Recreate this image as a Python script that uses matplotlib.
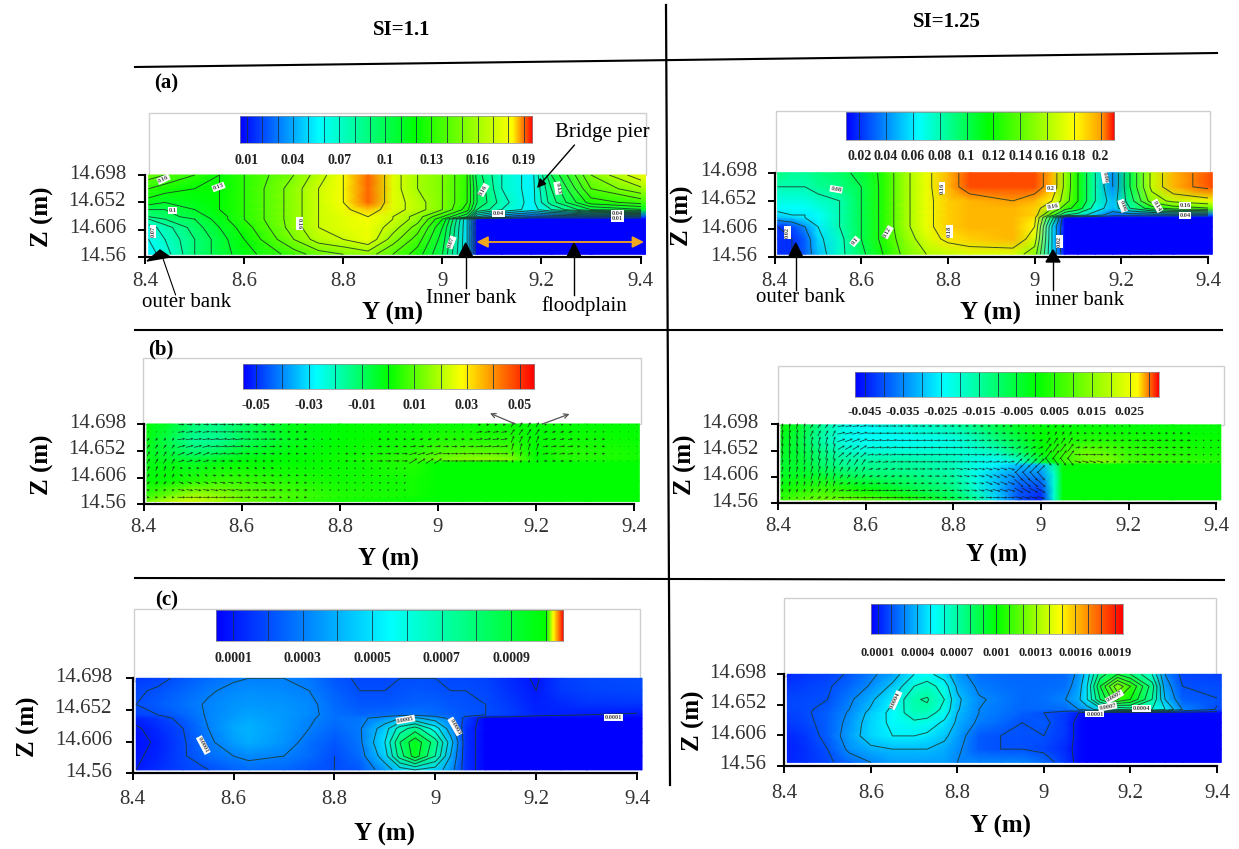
import numpy as np
import matplotlib
matplotlib.use("Agg")
import matplotlib.pyplot as plt
from matplotlib.colors import LinearSegmentedColormap
from matplotlib.lines import Line2D
from matplotlib.patches import Rectangle, Polygon

plt.rcParams['font.family'] = ['Liberation Serif', 'DejaVu Serif']
W, H = 1239, 849
N = np.nan

# ---------- panel (a) left: SI=1.1 ----------
a1_y = [8.407,8.44,8.5,8.55,8.6,8.7,8.75,8.8,8.85,8.9,8.95,9.0,9.05,9.07,9.12,9.18,9.22,9.3,9.41]
a1_z = [14.565,14.59,14.61,14.624,14.628,14.64,14.652,14.675,14.698]
a1_v = [
 [.055,.065,.09,.105,.115,.135,.145,.15,.155,.14,.125,.10,.05,.0,.0,.0,.0,.0,.0],
 [.06,.07,.09,.105,.12,.15,.165,.17,.178,.155,.135,.105,.05,.0,.0,.0,.0,.0,.0],
 [.065,.075,.095,.11,.125,.155,.17,.175,.178,.165,.145,.11,.05,.0,.0,.0,.0,.0,.0],
 [.08,.09,.10,.115,.13,.155,.17,.175,.18,.17,.155,.12,.05,.0,.0,.0,.0,.0,.0],
 [.09,.095,.105,.115,.13,.155,.17,.175,.18,.17,.155,.13,.10,.05,.03,.02,.02,.02,.02],
 [.10,.10,.11,.12,.13,.155,.17,.178,.185,.175,.165,.15,.125,.09,.07,.055,.07,.10,.11],
 [.115,.11,.115,.12,.13,.155,.17,.18,.19,.175,.165,.15,.13,.10,.075,.055,.085,.125,.135],
 [.13,.125,.12,.12,.13,.155,.17,.18,.19,.175,.16,.15,.13,.10,.07,.055,.09,.14,.16],
 [.145,.14,.13,.12,.13,.15,.165,.18,.19,.175,.16,.15,.13,.095,.07,.055,.10,.15,.18],
]
a1_ticks = ['0.01','0.04','0.07','0.1','0.13','0.16','0.19']

# ---------- panel (a) right: SI=1.25 ----------
a2_y = [8.407,8.44,8.47,8.5,8.55,8.6,8.65,8.7,8.75,8.8,8.85,8.95,9.0,9.04,9.07,9.1,9.14,9.18,9.22,9.27,9.32,9.41]
a2_z = [14.565,14.59,14.61,14.625,14.629,14.64,14.652,14.675,14.698]
a2_v = [
 [.02,.02,.03,.05,.075,.095,.12,.145,.16,.165,.17,.17,.15,.06,0,0,0,0,0,0,0,0],
 [.02,.02,.03,.055,.075,.10,.125,.15,.17,.185,.19,.195,.17,.06,0,0,0,0,0,0,0,0],
 [.02,.025,.04,.06,.08,.10,.125,.155,.175,.19,.195,.195,.18,.06,0,0,0,0,0,0,0,0],
 [.05,.055,.06,.065,.08,.10,.125,.155,.175,.19,.195,.195,.185,.09,0,0,0,0,0,0,0,0],
 [.055,.06,.06,.065,.08,.10,.125,.155,.175,.19,.195,.195,.19,.13,.08,.07,.05,.03,.03,.03,.03,.03],
 [.065,.065,.065,.07,.08,.10,.125,.155,.175,.19,.195,.195,.19,.16,.13,.11,.07,.05,.08,.11,.13,.14],
 [.07,.07,.07,.075,.08,.10,.125,.155,.175,.19,.195,.2,.195,.18,.15,.12,.08,.05,.09,.15,.165,.175],
 [.08,.08,.08,.085,.09,.10,.125,.155,.175,.195,.205,.205,.205,.195,.155,.12,.08,.04,.10,.165,.195,.205],
 [.09,.085,.085,.09,.095,.105,.125,.155,.175,.195,.205,.205,.205,.195,.155,.12,.08,.04,.10,.165,.195,.205],
]
a2_ticks = ['0.02','0.04','0.06','0.08','0.1','0.12','0.14','0.16','0.18','0.2']

# ---------- panel (b) left ----------
b1_y = [8.407,8.45,8.5,8.55,8.6,8.7,8.8,8.95,9.0,9.05,9.1,9.15,9.2,9.25,9.3,9.41]
b1_z = [14.565,14.575,14.6,14.633,14.637,14.65,14.67,14.698]
b1_v = [
 [.012,.02,.022,.018,.012,.006,.002,0,0,0,0,0,0,0,0,0],
 [.006,.012,.018,.016,.012,.008,.004,.002,0,0,0,0,0,0,0,0],
 [0,.001,.004,.006,.006,.004,.002,.002,0,0,0,0,0,0,0,0],
 [-.002,-.002,-.004,-.002,0,0,.001,.004,0,0,0,0,0,0,0,0],
 [-.002,-.004,-.006,-.004,-.002,0,.002,.006,.012,.015,.016,.014,0,.004,.004,.002],
 [-.003,-.006,-.012,-.01,-.005,-.001,.001,.004,.008,.01,.01,.008,0,.004,.004,.002],
 [-.002,-.008,-.016,-.016,-.01,-.003,0,.002,.004,.004,.004,.004,0,.002,.002,.001],
 [-.001,-.004,-.012,-.014,-.01,-.002,0,.001,.001,.001,.001,.001,0,0,0,0],
]
b1_ticks = ['-0.05','-0.03','-0.01','0.01','0.03','0.05']
b1_u = [
 [0,6,7,5,2,1,1,1,1,1,3,3,2,1,1],
 [1,7,8,6,3,1,1,2,2,2,6,4,4,2,1],
 [2,8,9,7,4,2,1,3,4,4,7,3,5,3,1],
 [3,8,9,6,3,2,2,4,6,6,8,2,6,3,1],
 [3,7,8,5,3,2,3,6,8,8,8,1,6,3,1],
 [3,6,5,3,2,2,3,6,8,8,8,1,4,2,1],
 [2,3,3,3,2,2,2,2,N,N,N,N,N,N,N],
 [2,3,4,4,3,2,2,2,N,N,N,N,N,N,N],
 [3,5,6,5,3,2,2,2,N,N,N,N,N,N,N],
 [3,7,8,7,4,2,2,2,N,N,N,N,N,N,N],
 [3,8,8,6,3,1,1,1,N,N,N,N,N,N,N],
]
b1_w = [
 [0,0,0,0,0,0,0,0,0,0,1,5,1,0,0],
 [1,1,0,0,0,0,0,0,0,0,1,6,1,0,0],
 [3,1,1,0,0,0,0,0,1,0,1,7,1,0,0],
 [4,2,1,0,0,0,0,0,1,0,1,7,1,0,0],
 [5,3,1,0,0,0,0,0,2,0,0,5,1,0,0],
 [5,2,0,0,0,0,0,0,5,0,0,3,0,0,0],
 [5,-1,-1,-1,0,0,0,1,N,N,N,N,N,N,N],
 [4,-2,-1,-1,-1,0,0,1,N,N,N,N,N,N,N],
 [3,-2,-1,-1,0,0,0,1,N,N,N,N,N,N,N],
 [1,-1,-1,0,0,0,0,0,N,N,N,N,N,N,N],
 [0,0,0,0,0,0,0,0,N,N,N,N,N,N,N],
]

# ---------- panel (b) right ----------
b2_y = [8.407,8.45,8.5,8.55,8.6,8.7,8.8,8.85,8.9,8.95,9.0,9.03,9.05,9.1,9.15,9.2,9.3,9.41]
b2_z = [14.566,14.585,14.61,14.628,14.632,14.65,14.67,14.697]
b2_v = [
 [.006,.010,.012,.012,.010,.004,-.006,-.014,-.028,-.040,-.045,-.02,0,0,0,0,0,0],
 [.002,.004,.006,.004,0,-.006,-.012,-.02,-.03,-.04,-.042,-.02,0,0,0,0,0,0],
 [-.003,-.003,-.005,-.008,-.01,-.012,-.016,-.022,-.03,-.035,-.035,-.02,0,0,0,0,0,0],
 [-.004,-.004,-.01,-.014,-.014,-.015,-.018,-.022,-.025,-.03,-.03,-.015,0,0,0,0,0,0],
 [-.004,-.004,-.01,-.014,-.014,-.015,-.018,-.022,-.025,-.02,-.006,0,.006,.012,.014,.008,.006,.004],
 [-.003,-.005,-.012,-.018,-.02,-.02,-.02,-.02,-.018,-.01,0,.004,.006,.012,.01,.006,.004,.002],
 [-.002,-.006,-.016,-.022,-.024,-.024,-.022,-.018,-.012,-.006,0,.002,.003,.004,.004,.003,.002,.001],
 [0,-.004,-.014,-.022,-.024,-.02,-.016,-.012,-.006,-.002,0,0,0,0,0,0,0,0],
]
b2_ticks = ['-0.045','-0.035','-0.025','-0.015','-0.005','0.005','0.015','0.025']
b2_u = [
 [1,3,7,7,6,5,4,3,2,2,2,2,1,1,1],
 [1,3,8,8,7,7,6,4,3,2,3,3,3,3,1],
 [1,2,8,8,8,7,6,5,4,4,4,4,5,4,2],
 [1,2,7,8,8,8,7,6,5,6,5,4,5,4,2],
 [1,2,6,7,8,8,7,6,5,7,7,4,5,4,2],
 [1,2,4,6,7,7,7,7,7,6,7,3,5,4,2],
 [1,2,3,5,6,6,7,7,8,N,N,N,N,N,N],
 [1,2,3,4,4,5,6,7,8,N,N,N,N,N,N],
 [1,2,4,5,4,4,5,7,9,N,N,N,N,N,N],
 [1,3,6,7,6,5,6,8,9,N,N,N,N,N,N],
 [1,4,7,8,7,5,5,7,8,N,N,N,N,N,N],
]
b2_w = [
 [6,4,1,0,0,0,0,0,0,2,0,0,0,0,0],
 [8,6,2,0,0,0,0,0,0,4,0,0,0,0,0],
 [9,8,3,1,0,0,0,0,1,6,1,0,0,0,0],
 [9,9,4,1,0,0,0,0,2,8,1,0,0,0,0],
 [8,9,5,1,0,0,0,1,4,9,0,0,0,0,0],
 [6,8,6,1,0,0,0,1,7,-8,-2,0,0,0,0],
 [6,7,5,1,0,0,-1,-2,8,N,N,N,N,N,N],
 [5,7,4,1,0,0,-1,-3,-9,N,N,N,N,N,N],
 [5,6,2,0,0,0,-1,-3,-8,N,N,N,N,N,N],
 [4,4,1,0,0,0,-1,-2,-5,N,N,N,N,N,N],
 [2,2,0,0,0,0,0,0,-2,N,N,N,N,N,N],
]

# ---------- panel (c) left, values in 1e-4 ----------
c1_y = [8.407,8.45,8.5,8.55,8.6,8.63,8.7,8.75,8.8,8.85,8.9,8.93,8.96,9.0,9.03,9.06,9.1,9.15,9.2,9.25,9.3,9.41]
c1_z = [14.565,14.585,14.605,14.625,14.64,14.645,14.66,14.68,14.698]
c1_v = [
 [1.0,1.4,1.8,2.0,2.4,2.6,2.5,2.2,2.0,2.2,3.5,4.5,5.0,4.5,3.5,1.5,.5,.5,.5,.5,.5,.5],
 [.9,1.2,1.9,2.6,3.0,3.2,3.0,2.6,2.0,2.6,4.5,7.5,9.5,7,4,1.5,.5,.5,.5,.5,.5,.5],
 [.8,1.1,1.9,2.8,3.6,3.9,3.4,2.7,2.2,2.8,5,8,9.7,7.5,4.5,1.5,.5,.5,.5,.5,.5,.5],
 [.9,1.3,2.0,3.0,3.8,4.0,3.5,3.0,2.5,2.9,4.5,6.5,7.5,5.5,3.5,1.5,.5,.5,.5,.5,.5,.5],
 [1.2,1.6,2.3,3.1,3.6,3.8,3.5,3.1,2.7,2.8,3.4,4,4.2,3.5,2.8,1.8,.5,.5,.5,.5,.5,.5],
 [1.8,2.0,2.5,3.1,3.5,3.7,3.5,3.2,2.7,2.5,2.6,2.7,2.8,2.6,2.4,2.2,2.0,1.7,1.2,1.1,1.0,.9],
 [2.0,2.3,2.7,3.1,3.4,3.5,3.4,3.2,2.6,2.2,2.2,2.3,2.4,2.4,2.2,2.1,2.0,1.6,1.1,1.3,1.5,1.5],
 [1.9,2.1,2.5,2.9,3.2,3.3,3.2,3.0,2.4,2.0,2.0,2.1,2.2,2.1,2.0,2.0,1.9,1.4,1.0,1.6,1.8,1.9],
 [1.6,1.8,2.2,2.6,2.9,3.0,3.0,2.8,2.2,1.9,1.9,2.0,2.0,2.0,1.9,1.9,1.8,1.3,.9,1.7,1.9,2.0],
]
c1_ticks = ['0.0001','0.0003','0.0005','0.0007','0.0009']

# ---------- panel (c) right, values in 1e-4 ----------
c2_y = [8.407,8.45,8.5,8.55,8.6,8.65,8.7,8.73,8.77,8.8,8.85,8.9,8.95,9.0,9.05,9.08,9.1,9.13,9.17,9.2,9.25,9.28,9.32,9.41]
c2_z = [14.565,14.585,14.605,14.625,14.64,14.645,14.66,14.68,14.698]
c2_v = [
 [1.2,1.4,1.8,2.5,3,3.5,3.5,3.5,3.5,3.0,3.0,3,3,2.5,1.5,.7,.5,.5,.5,.5,.5,.5,.5,.5],
 [1.1,1.4,2.0,3.2,3.8,4,4,4,3.7,3.2,2.2,2,2,1.8,1.3,.7,.5,.5,.5,.5,.5,.5,.5,.5],
 [1.2,1.5,2.3,3.5,4.5,5.0,5.0,4.8,4.2,3.5,2.2,2,2,2,1.5,.7,.5,.5,.5,.5,.5,.5,.5,.5],
 [1.6,1.8,2.3,3.3,4.5,5.2,5.8,5.6,4.8,3.8,2.8,2.5,2,2.2,1.5,.7,.5,.5,.5,.5,.5,.5,.5,.5],
 [1.7,1.9,2.3,3.1,4.3,5.3,6.6,6.5,5.5,4,3,2.7,2.3,2.0,1.6,1,.6,.6,.6,.6,.6,.6,.6,.6],
 [1.8,1.9,2.2,3.0,4.1,5.2,6.7,6.8,5.7,4.1,3,2.7,2.4,2.5,2.5,3,3.5,4.5,6,6.5,6,5,3,1.8],
 [1.8,1.9,2,2.8,3.8,5.0,6.9,7.1,6.0,4.2,3.1,2.8,2.5,2.6,3,3.8,5,8,11,10,7,4,2.3,2.0],
 [1.5,1.7,1.9,2.4,3.1,4.2,6,6.5,5.5,3.8,2.8,2.6,2.5,2.5,2.6,3.5,5,9,12.8,11,7.5,3.5,2.0,1.9],
 [1.2,1.5,1.7,2.1,2.8,3.5,5,5.3,4.5,3.3,2.6,2.5,2.4,2.4,2.5,3.2,4.5,7.5,9,8,6,3,1.8,1.7],
]
c2_ticks = ['0.0001','0.0004','0.0007','0.001','0.0013','0.0016','0.0019']

x_ticks = [8.4, 8.6, 8.8, 9.0, 9.2, 9.4]
x_tick_labels = ['8.4', '8.6', '8.8', '9', '9.2', '9.4']
z_ticks = [14.56, 14.606, 14.652, 14.698]
z_tick_labels = ['14.56', '14.606', '14.652', '14.698']

fig = plt.figure(figsize=(W/100, H/100), dpi=100, facecolor='white')

def px_rect(l, t, r, b):
    return [l/W, 1-b/H, (r-l)/W, (b-t)/H]

def fx(x): return x/W
def fy(y): return 1-y/H

def rainbow(stops):
    return LinearSegmentedColormap.from_list('r', list(zip(stops, ['#0000ff','#00ffff','#00ff00','#ffff00','#ff0000'])), N=512)

def txt(x, y, s, **kw):
    kw.setdefault('ha', 'center'); kw.setdefault('va', 'center')
    fig.text(fx(x), fy(y), s, **kw)

def panel(box, ax_px, ylab_right, ylab_x, y, z, v, cmap, vmin, vmax, levels, labels, xlab, xtick_y):
    # white frame behind the plot
    fig.add_artist(Rectangle((fx(box[0]), fy(box[3])), (box[2]-box[0])/W, (box[3]-box[1])/H,
                             transform=fig.transFigure, fc='white', ec='#cfcfcf', lw=1.0, zorder=0))
    ax = fig.add_axes(px_rect(*ax_px), facecolor='none', zorder=2)
    ax.set_xlim(8.4, 9.4); ax.set_ylim(14.56, 14.698)
    m = ax.pcolormesh(y, z, np.array(v), cmap=cmap, vmin=vmin, vmax=vmax, shading='gouraud', clip_on=False, zorder=1)
    if levels is not None:
        ax.contour(y, z, np.array(v), levels=levels, colors='#1c3a2a', linewidths=0.7, alpha=0.85, clip_on=False, zorder=2)
    for s in ('top', 'right'):
        ax.spines[s].set_visible(False)
    for s in ('left', 'bottom'):
        ax.spines[s].set_linewidth(1.6)
    ax.set_xticks(x_ticks); ax.set_yticks(z_ticks)
    ax.set_xticklabels([]); ax.set_yticklabels([])
    ax.tick_params(length=5, width=1.4, direction='out')
    for t, s in zip(x_ticks, x_tick_labels):
        px = ax_px[0] + (t-8.4)*(ax_px[2]-ax_px[0])
        txt(px, xtick_y, s, fontsize=15, color='#333333')
    for t, s in zip(z_ticks, z_tick_labels):
        py = ax_px[3] - (t-14.56)/0.138*(ax_px[3]-ax_px[1])
        txt(ylab_right, py-1, s, fontsize=15, color='#333333', ha='right')
    txt(ylab_x, (ax_px[1]+ax_px[3])/2+1, 'Z (m)', fontsize=18, fontweight='bold', rotation=90)
    txt(xlab[0], xlab[1], 'Y (m)', fontsize=18, fontweight='bold')
    for (lx, lz, s, rot) in labels:
        ax.text(lx, lz, s, fontsize=4.6, fontweight='bold', color='#444444', rotation=rot, ha='center', va='center',
                rotation_mode='anchor', zorder=4, clip_on=False,
                bbox=dict(fc='white', ec='none', pad=0.6))
    return ax

def cbar(rect, cmap, vmin, vmax, line_vals, tick_vals, tick_labels, label_y, fs):
    l, t, r, b = rect
    cax = fig.add_axes(px_rect(l, t, r, b), zorder=3)
    cax.imshow(np.linspace(vmin, vmax, 512)[None, :], cmap=cmap, vmin=vmin, vmax=vmax, aspect='auto', extent=[vmin, vmax, 0, 1])
    cax.vlines(line_vals, 0, 1, color='#153045', lw=0.7, alpha=0.8)
    cax.set_xticks([]); cax.set_yticks([])
    for s in cax.spines.values():
        s.set_linewidth(0.5); s.set_color('#8a8a8a')
    for val, s in zip(tick_vals, tick_labels):
        px = l + (val-vmin)/(vmax-vmin)*(r-l)
        txt(px, label_y, s, fontsize=fs, fontweight='bold', color='#222222')

def arrow(x0, y0, x1, y1, color='black', lw=1.0, ms=12, style='-|>'):
    fig.add_artist(matplotlib.patches.FancyArrowPatch((fx(x0), fy(y0)), (fx(x1), fy(y1)), transform=fig.transFigure,
                   arrowstyle=style, mutation_scale=ms, color=color, lw=lw, shrinkA=0, shrinkB=0, zorder=6))

def up_tri(x, y_tip, y_base, half, y_end):
    fig.add_artist(Line2D([fx(x), fx(x)], [fy(y_base), fy(y_end)], color='black', lw=1.0, zorder=6))
    fig.add_artist(Polygon([(fx(x), fy(y_tip)), (fx(x-half), fy(y_base)), (fx(x+half), fy(y_base))],
                           transform=fig.transFigure, fc='black', ec='black', zorder=6))

def field(ax, u, w, z_top, z_bot, y_step=4, x0=8.41, x1=9.405):
    U = np.repeat(np.array(u, float), y_step, axis=1)
    V = np.repeat(np.array(w, float), y_step, axis=1)
    xs = np.linspace(x0, x1, U.shape[1])
    zs = np.linspace(z_top, z_bot, U.shape[0])
    X, Z = np.meshgrid(xs, zs)
    ax.quiver(X, Z, np.ma.masked_invalid(U), np.ma.masked_invalid(V), angles='uv', units='dots', scale_units='dots', scale=1,
              width=0.8, headwidth=3.2, headlength=3.5, headaxislength=3, minlength=0.6, pivot='mid', color='#1a1a1a',
              alpha=0.8, clip_on=False, zorder=3)

# ---------- (a) left ----------
cm = rainbow([0, .27, .6, .93, 1])
vmin, vmax = .0056, .1955
lv = np.arange(.01, .195, .01)
ax = panel((148.6, 112.7, 645.5, 175), (145.2, 175, 640.5, 257.3), 126, 42, a1_y, a1_z, a1_v, cm, vmin, vmax, lv,
           [(8.437,14.691,'0.16',25),(8.548,14.678,'0.13',20),(8.455,14.638,'0.1',0),(8.416,14.603,'0.07',90),
            (8.711,14.617,'0.16',-90),(9.083,14.673,'0.16',60),(9.233,14.676,'0.13',-80),(9.113,14.633,'0.04',0),
            (9.354,14.633,'0.04',0),(9.354,14.625,'0.01',0),(9.018,14.585,'0.07',70)],
           (392, 313), 281.7)
cbar((240, 116, 532.3, 143.3), cm, vmin, vmax, lv, [.01,.04,.07,.1,.13,.16,.19], a1_ticks, 160, 10)

# ---------- (a) right ----------
cm = LinearSegmentedColormap.from_list('r', list(zip([0,.27,.53,.85,.95,1], ['#0000ff','#00ffff','#00ff00','#ffff00','#ffa000','#ff0000'])), N=512)
vmin, vmax = .0099, .21
lv = np.arange(.02, .205, .02)
ax = panel((776.4, 110.7, 1210.4, 173), (774.6, 172.7, 1208, 257.3), 757, 682, a2_y, a2_z, a2_v, cm, vmin, vmax, np.arange(.02, .21, .02),
           [(8.542,14.671,'0.08',-10),(8.786,14.673,'0.16',90),(8.803,14.602,'0.18',90),(8.585,14.586,'0.1',50),
            (8.661,14.601,'0.12',60),(9.038,14.672,'0.2',0),(9.042,14.643,'0.16',10),(9.162,14.691,'0.06',-80),
            (9.203,14.644,'0.06',-70),(9.283,14.644,'0.14',-60),(9.347,14.644,'0.16',0),(9.347,14.628,'0.04',0),
            (8.43,14.60,'0.02',90),(9.057,14.586,'0.02',90)],
           (991, 313), 281.7)
cbar((845.7, 111.7, 1114, 140), cm, vmin, vmax, lv, [.02,.04,.06,.08,.1,.12,.14,.16,.18,.2], a2_ticks, 156.7, 10)

# ---------- (b) left ----------
cm = rainbow([0, .25, .5, .75, 1])
vmin, vmax = -.0551, .0554
ax = panel((142.8, 357.7, 640.5, 424), (143.5, 424, 634.4, 504.3), 126, 42, b1_y, b1_z, b1_v, cm, vmin, vmax, None, [], (388.6, 559), 528)
field(ax, b1_u, b1_w, 14.697, 14.572)
cbar((242.6, 364, 534, 389.3), cm, vmin, vmax, np.arange(-.05, .051, .01), [-.05,-.03,-.01,.01,.03,.05], b1_ticks, 405, 10)

# ---------- (b) right ----------
cm = rainbow([0, .29, .6, .93, 1])
vmin, vmax = -.0477, .0326
ax = panel((778, 365.7, 1223.6, 425), (777.9, 424.3, 1216.4, 503.3), 758.6, 685, b2_y, b2_z, b2_v, cm, vmin, vmax, None, [], (996.8, 555), 526.7)
field(ax, b2_u, b2_w, 14.695, 14.57)
cbar((855, 371.7, 1158.6, 396.7), cm, vmin, vmax, np.arange(-.045, .031, .005), [-.045,-.035,-.025,-.015,-.005,.005,.015,.025], b2_ticks, 411.7, 9.6)

# ---------- (c) left ----------
cm = rainbow([0, .5, .95, .97, 1])
vmin, vmax = .493, 10.5
ax = panel((134.4, 609.3, 640.5, 680.7), (132.7, 678.3, 637, 773.3), 112, 28, c1_y, c1_z, c1_v, cm, vmin, vmax, np.arange(1, 10, 1),
           [(8.54,14.601,'0.0001',-62),(8.941,14.638,'0.0005',10),(9.039,14.628,'0.0003',-60),(9.353,14.641,'0.0001',0)],
           (384, 834), 800)
cbar((215.5, 610, 563.4, 640.7), cm, vmin, vmax, np.arange(1, 10.5, 1), [1,3,5,7,9], c1_ticks, 659, 10)

# ---------- (c) right ----------
cm = rainbow([0, .25, .5, .75, 1])
vmin, vmax = .484, 19.6
ax = panel((784.3, 597.7, 1216.4, 676), (784.3, 674.3, 1217, 765.7), 766.4, 693, c2_y, c2_z, c2_v, cm, vmin, vmax, np.arange(1, 19, 1),
           [(8.657,14.659,'0.0004',65),(9.163,14.664,'0.0007',30),(9.147,14.649,'0.0007',10),(9.118,14.638,'0.0001',0),(9.225,14.646,'0.0004',0)],
           (1000, 826.7), 793)
cbar((871, 604, 1122.5, 634.3), cm, vmin, vmax, np.arange(1, 19.5, 1), [1,4,7,10,13,16,19], c2_ticks, 652.7, 9)

# ---------- annotations, panel letters, column titles ----------
txt(602, 132.7, 'Bridge pier', fontsize=15)
arrow(574.5, 145, 537, 188, ms=13)
txt(187, 302.7, 'outer bank', fontsize=15)
arrow(175.6, 295, 160, 250, lw=0.8, ms=1)
fig.add_artist(Polygon([(fx(160), fy(250)), (fx(147), fy(261)), (fx(170), fy(257))], transform=fig.transFigure, fc='black', ec='black', zorder=6))
txt(471, 298.7, 'Inner bank', fontsize=15)
up_tri(465.7, 243, 257, 7, 288)
txt(584, 306, 'floodplain', fontsize=15)
up_tri(574, 243, 257, 7, 295)
arrow(476.5, 242, 644, 242, color='#f2a51e', lw=1.3, ms=17, style='<|-|>')
txt(801, 297, 'outer bank', fontsize=15)
up_tri(795.7, 243, 257, 7, 290)
txt(1080, 300.7, 'inner bank', fontsize=15)
up_tri(1053, 250, 262, 7, 290)
arrow(515.4, 424, 490, 413.3, color='#555555', lw=0.9, ms=8, style='->')
arrow(542.4, 424, 569.5, 414, color='#555555', lw=0.9, ms=8, style='->')

for x, y, s in [(166, 83, '(a)'), (161, 349, '(b)'), (166.5, 600, '(c)')]:
    txt(x, y, s, fontsize=15, fontweight='bold')
txt(402, 30, 'SI=1.1', fontsize=15, fontweight='bold')
txt(947, 22, 'SI=1.25', fontsize=15, fontweight='bold')

for (x0, y0, x1, y1, lw) in [(135, 67, 1217, 53, 1.5), (666, 5, 670, 785, 1.6), (135, 330, 1222, 330, 1.5), (135, 578, 1224, 580, 1.5)]:
    fig.add_artist(Line2D([fx(x0), fx(x1)], [fy(y0), fy(y1)], color='black', lw=lw, zorder=5))

fig.savefig('out.png', dpi=100)
